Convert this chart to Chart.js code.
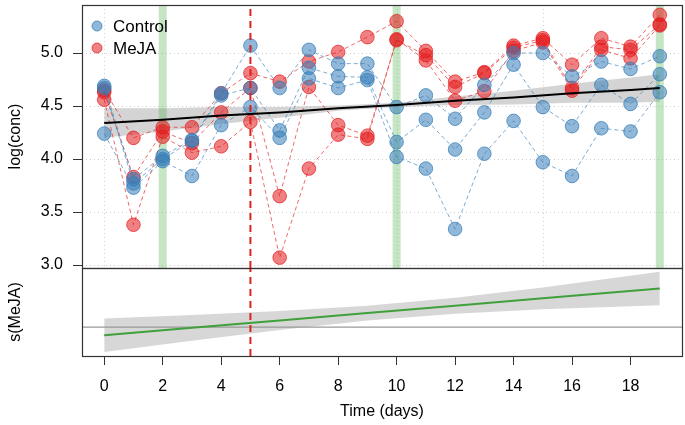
<!DOCTYPE html>
<html>
<head>
<meta charset="utf-8">
<script src="https://cdn.jsdelivr.net/npm/chart.js@4/dist/chart.umd.min.js"></script>
<style>
  html, body { margin: 0; padding: 0; background: #fff; }
  #wrap { position: relative; width: 685px; height: 425px; }
  #upper { position: absolute; left: 0; top: 0; }
  #lower { position: absolute; left: 0; top: 260px; }
</style>
</head>
<body>
<div id="wrap">
  <canvas id="upper" width="685" height="280"></canvas>
  <canvas id="lower" width="685" height="165"></canvas>
</div>
<script>
// sampling days and per-subject log concentrations
const days = [0, 1, 2, 3, 4, 5, 6, 7, 8, 9, 10, 11, 12, 13, 14, 15, 16, 17, 18, 19];
const control1 = [4.69, 3.81, 4.03, 4.18, 4.62, 5.07, 4.67, 5.03, 4.90, 4.90, 4.49, 4.60, 4.38, 4.70, 5.00, 5.00, 4.78, 4.92, 4.85, 4.97];
const control2 = [4.67, 3.77, 4.00, 4.17, 4.60, 4.67, 4.27, 4.86, 4.78, 4.77, 4.16, 4.37, 4.09, 4.44, 4.89, 4.49, 4.31, 4.70, 4.52, 4.80];
const control3 = [4.24, 3.73, 3.98, 3.84, 4.32, 4.49, 4.20, 4.76, 4.67, 4.745, 4.02, 3.91, 3.34, 4.05, 4.36, 3.97, 3.84, 4.29, 4.26, 4.63];
const meja1 = [4.56, 3.38, 4.21, 4.06, 4.12, 4.35, 3.07, 3.91, 4.23, 4.19, 5.13, 4.93, 4.55, 4.64, 5.02, 5.10, 4.645, 5.03, 4.95, 5.26];
const meja2 = [4.63, 3.83, 4.26, 4.15, 4.44, 4.67, 3.65, 4.68, 4.32, 4.22, 5.12, 4.98, 4.68, 4.81, 5.05, 5.12, 4.67, 5.06, 5.03, 5.27];
const meja3 = [4.65, 4.20, 4.30, 4.30, 4.62, 4.81, 4.73, 4.92, 5.01, 5.15, 5.30, 5.02, 4.73, 4.82, 5.07, 5.14, 4.89, 5.14, 5.06, 5.36];

// overall trend with confidence band
const trendDays = [0, 2, 4, 6, 8, 10, 12, 14, 16, 18, 19];
const trendFit = [4.34, 4.37, 4.41, 4.44, 4.48, 4.51, 4.55, 4.58, 4.62, 4.65, 4.67];
const trendLow = [4.20, 4.26, 4.33, 4.39, 4.455, 4.49, 4.51, 4.515, 4.53, 4.53, 4.54];
const trendHigh = [4.48, 4.48, 4.49, 4.49, 4.505, 4.53, 4.59, 4.645, 4.71, 4.77, 4.80];

// smooth term s(MeJA)
const sDays = [0, 3, 6, 9, 12, 15, 19];
const sFit = [-0.083, -0.008, 0.066, 0.141, 0.215, 0.29, 0.39];
const sLow = [-0.253, -0.138, -0.029, 0.066, 0.135, 0.18, 0.22];
const sHigh = [0.087, 0.122, 0.161, 0.216, 0.295, 0.40, 0.56];

const markerDays = [2, 10, 19];
const treatDay = 5;
const gridDays = [0, 5, 10, 15];
const yTicks = [3.0, 3.5, 4.0, 4.5, 5.0];
const xTicks = [0, 2, 4, 6, 8, 10, 12, 14, 16, 18];

const xMin = -0.76, xMax = 19.76;
const upMin = 2.972, upMax = 5.453;
const loMin = -0.293, loMax = 0.597;

const BLUE = { fill: 'rgba(55,126,184,0.55)', edge: 'rgba(55,126,184,0.75)', line: 'rgba(55,126,184,0.65)' };
const RED = { fill: 'rgba(228,26,28,0.55)', edge: 'rgba(228,26,28,0.7)', line: 'rgba(228,26,28,0.65)' };
const FONT = 'Liberation Sans, Arial, sans-serif';

Chart.defaults.font.family = FONT;
Chart.defaults.font.size = 16;
Chart.defaults.color = '#000';

const pts = (xs, ys) => xs.map((x, i) => ({ x, y: ys[i] }));
const vline = (d, lo, hi) => [{ x: d, y: lo }, { x: d, y: hi }];

function subject(vals, c) {
  return {
    data: pts(days, vals), borderColor: c.line, borderWidth: 1, borderDash: [4, 3],
    pointRadius: 6.8, pointBorderWidth: 1, pointBackgroundColor: c.fill, pointBorderColor: c.edge, order: 5,
  };
}

// keep the plot box where it is, labels may hang over the edge
function noPad(s) {
  s.paddingTop = 0; s.paddingBottom = 0; s.paddingLeft = 0; s.paddingRight = 0;
}

const boxPlugin = {
  id: 'box',
  beforeDatasetsDraw(chart, args, opts) {
    const { ctx, chartArea: a, scales } = chart;
    if (!opts.grid) return;
    ctx.save();
    ctx.strokeStyle = '#cfcfcf';
    ctx.lineWidth = 1;
    ctx.setLineDash([1, 3]);
    yTicks.forEach(v => {
      const y = Math.round(scales.y.getPixelForValue(v)) + 0.5;
      ctx.beginPath(); ctx.moveTo(a.left, y); ctx.lineTo(a.right, y); ctx.stroke();
    });
    gridDays.forEach(d => {
      const x = Math.round(scales.x.getPixelForValue(d)) + 0.5;
      ctx.beginPath(); ctx.moveTo(x, a.top); ctx.lineTo(x, a.bottom); ctx.stroke();
    });
    ctx.restore();
  },
  afterDatasetsDraw(chart) {
    const { ctx, chartArea: a } = chart;
    ctx.save();
    ctx.strokeStyle = '#333';
    ctx.lineWidth = 1.2;
    ctx.strokeRect(Math.round(a.left) + 0.5, Math.round(a.top) + 0.5, Math.round(a.right - a.left), Math.round(a.bottom - a.top));
    ctx.restore();
  },
};

const legendPlugin = {
  id: 'insideLegend',
  afterDraw(chart) {
    const { ctx, chartArea: a } = chart;
    const items = [['Control', BLUE], ['MeJA', RED]];
    ctx.save();
    ctx.font = '17px ' + FONT;
    ctx.textBaseline = 'middle';
    items.forEach(([label, c], i) => {
      const y = a.top + 21 + i * 22;
      ctx.beginPath();
      ctx.arc(a.left + 15, y, 5, 0, Math.PI * 2);
      ctx.fillStyle = c.fill; ctx.fill();
      ctx.strokeStyle = c.edge; ctx.lineWidth = 1; ctx.stroke();
      ctx.fillStyle = '#000';
      ctx.fillText(label, a.left + 31, y + 1);
    });
    ctx.restore();
  },
};

const yWidth = s => { s.width = 82; noPad(s); };

new Chart(document.getElementById('upper'), {
  type: 'line',
  data: {
    datasets: [
      { data: pts(trendDays, trendLow), borderWidth: 0, pointRadius: 0, fill: false, order: 10 },
      { data: pts(trendDays, trendHigh), borderWidth: 0, pointRadius: 0, fill: '-1', backgroundColor: 'rgba(160,160,160,0.45)', order: 10 },
      ...markerDays.map(d => ({ data: vline(d, upMin, upMax), borderColor: 'rgba(77,175,74,0.32)', borderWidth: 8, pointRadius: 0, order: 8 })),
      subject(control1, BLUE), subject(control2, BLUE), subject(control3, BLUE),
      subject(meja1, RED), subject(meja2, RED), subject(meja3, RED),
      { data: pts(trendDays, trendFit), borderColor: '#000', borderWidth: 2, pointRadius: 0, order: 2 },
      { data: vline(treatDay, upMin, upMax), borderColor: '#e02020', borderWidth: 2, borderDash: [7, 5], pointRadius: 0, order: 1 },
    ],
  },
  options: {
    responsive: false, animation: false,
    layout: { autoPadding: false, padding: { top: 5, right: 3, bottom: 12, left: 0 } },
    plugins: { legend: { display: false }, tooltip: { enabled: false }, box: { grid: true } },
    scales: {
      x: { type: 'linear', min: xMin, max: xMax, display: false, afterFit: noPad },
      y: {
        type: 'linear', min: upMin, max: upMax,
        afterBuildTicks: s => { s.ticks = yTicks.map(v => ({ value: v })); },
        ticks: { callback: v => v.toFixed(1), padding: 10, color: '#000' },
        grid: { drawOnChartArea: false, tickLength: 9, color: '#333' },
        border: { display: false },
        title: { display: true, text: 'log(conc)', padding: { top: 6 } },
        afterFit: yWidth,
      },
    },
  },
  plugins: [boxPlugin, legendPlugin],
});

new Chart(document.getElementById('lower'), {
  type: 'line',
  data: {
    datasets: [
      { data: pts(sDays, sLow), borderWidth: 0, pointRadius: 0, fill: false, order: 10 },
      { data: pts(sDays, sHigh), borderWidth: 0, pointRadius: 0, fill: '-1', backgroundColor: 'rgba(175,175,175,0.5)', order: 10 },
      { data: [{ x: xMin, y: 0 }, { x: xMax, y: 0 }], borderColor: '#9a9a9a', borderWidth: 1.2, pointRadius: 0, order: 4 },
      { data: pts(sDays, sFit), borderColor: '#3fa03c', borderWidth: 2, pointRadius: 0, order: 2 },
      { data: vline(treatDay, loMin, loMax), borderColor: '#e02020', borderWidth: 2, borderDash: [7, 5], pointRadius: 0, order: 1 },
    ],
  },
  options: {
    responsive: false, animation: false,
    layout: { autoPadding: false, padding: { top: 8, right: 3, bottom: 0, left: 0 } },
    plugins: { legend: { display: false }, tooltip: { enabled: false }, box: { grid: false } },
    scales: {
      x: {
        type: 'linear', min: xMin, max: xMax,
        afterBuildTicks: s => { s.ticks = xTicks.map(v => ({ value: v })); },
        ticks: { callback: v => String(v), padding: 12, color: '#000', maxRotation: 0 },
        grid: { drawOnChartArea: false, tickLength: 9, color: '#333' },
        border: { display: false },
        title: { display: true, text: 'Time (days)', padding: { bottom: 4 } },
        afterFit: s => { s.height = 69; noPad(s); },
      },
      y: {
        type: 'linear', min: loMin, max: loMax,
        ticks: { display: false },
        grid: { display: false },
        border: { display: false },
        title: { display: true, text: 's(MeJA)', padding: { top: 6 } },
        afterFit: yWidth,
      },
    },
  },
  plugins: [boxPlugin],
});
</script>
</body>
</html>
